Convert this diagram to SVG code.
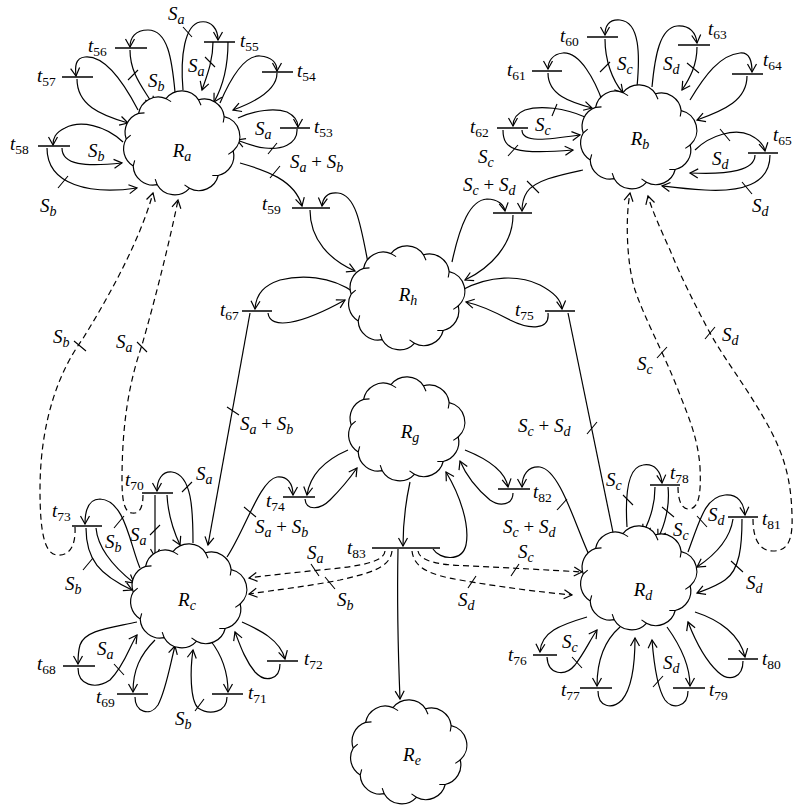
<svg xmlns="http://www.w3.org/2000/svg" width="796" height="805" viewBox="0 0 796 805">
<style>
.ln{fill:none;stroke:#000;stroke-width:1.2}
.ar{marker-end:url(#ah)}
.ds{stroke-dasharray:6 4}
.bar{stroke:#000;stroke-width:1.5}
.tk{stroke:#000;stroke-width:1.1}
.cl{fill:#fff;stroke:#000;stroke-width:1.2;stroke-linejoin:round}
.ct{fill:none;stroke:#000;stroke-width:1.1}
text{font-family:"Liberation Serif","DejaVu Serif",serif;font-style:italic;font-size:19px;fill:#000}
.n{font-size:13.5px;font-style:normal}
.i{font-size:14px}
.p{font-style:normal}
.rl{text-anchor:middle}
</style>
<defs>
<marker id="ah" viewBox="-10 -6 12 12" markerWidth="12" markerHeight="12" refX="0" refY="0" orient="auto" markerUnits="userSpaceOnUse"><path d="M-8,-4.5 L0,0 L-8,4.5" fill="none" stroke="#000" stroke-width="1.2"/></marker>
<g id="cloud">
<path class="cl" d="M53.2 8 A20 20 0 0 1 38.2 32.5 A20 20 0 0 1 9.4 45.3 A20 20 0 0 1 -22.8 41.7 A20 20 0 0 1 -46.8 23 A20 20 0 0 1 -53.8 -4 A20 20 0 0 1 -41.4 -29.6 A20 20 0 0 1 -14 -44.4 A20 20 0 0 1 18.5 -43.2 A20 20 0 0 1 44.2 -26.4 A20 20 0 0 1 53.2 8 Z"/>
<path class="ct" d="M53.2 8 l-4.9 3.4 M38.2 32.5 l-5.9 0 M9.4 45.3 l-4.9 -3.4 M-22.8 41.7 l-2 -5.6 M-46.8 23 l1.5 -5.7 M-53.8 -4 l4.5 -3.8 M-41.4 -29.6 l5.9 -0.5 M-14 -44.4 l5.1 3 M18.5 -43.2 l2.5 5.4 M44.2 -26.4 l-1 5.9"/>
</g>
</defs>
<rect width="796" height="805" fill="#fff"/>

<g id="connectors">
<!-- Ra -->
<path class="ln ar" d="M183 90 C180 55 185 25 200 22 C212 20 218 30 218 40"/>
<path class="ln ar" d="M213 42 C213 62 206 78 202 90"/>
<path class="ln ar" d="M228 42 C228 70 222 88 214 102"/>
<path class="ln ar" d="M220 103 C232 75 245 55 260 56 C272 57 277 63 277 71"/>
<path class="ln ar" d="M277 73 C277 90 255 102 233 110"/>
<path class="ln ar" d="M238 118 C255 110 275 108 287 112 C295 116 298 121 298 127"/>
<path class="ln ar" d="M297 129 C298 145 280 150 265 148 C255 147 245 143 237 140"/>
<path class="ln ar" d="M240 163 C265 170 295 180 302 206"/>
<path class="ln ar" d="M175 92 C172 60 168 30 148 30 C135 30 130 38 130 47"/>
<path class="ln ar" d="M130 50 C130 75 145 90 153 105"/>
<path class="ln ar" d="M138 110 C125 85 105 55 85 57 C75 58 75 67 76 76"/>
<path class="ln ar" d="M77 79 C77 105 100 115 128 123"/>
<path class="ln ar" d="M123 142 C105 125 80 120 65 128 C55 133 53 138 53 145"/>
<path class="ln ar" d="M62 148 C62 165 85 167 122 163"/>
<path class="ln ar" d="M47 148 C47 185 90 195 137 188"/>
<path class="ln ar ds" d="M75 527 C76 548 68 556 57 555 C44 554 40 530 40 490 C40 420 60 370 82 340 C110 295 140 240 153 193"/>
<path class="ln ar ds" d="M143 495 C143 510 138 514 132 513 C124 512 122 500 122 480 C122 420 130 380 142 345 C155 300 170 240 178 200"/>
<path class="tk" d="M183 27 L192 37 M205 57 L215 67 M268 154 L277 143 M270 178 L280 166 M128 80 L138 70 M58 188 L68 176 M74 341 L86 351 M137 342 L147 352"/>
<!-- Rh -->
<path class="ln ar" d="M368 263 C360 220 355 195 338 193 C328 192 323 197 322 206"/>
<path class="ln ar" d="M310 210 C310 240 330 260 355 271"/>
<path class="ln ar" d="M452 262 C460 225 470 200 487 199 C498 199 504 205 505 211"/>
<path class="ln ar" d="M583 170 C560 175 535 180 527 192 C523 198 522 203 522 211"/>
<path class="ln ar" d="M513 215 C513 245 490 268 465 280"/>
<path class="ln ar" d="M355 293 C330 275 300 275 280 280 C265 285 256 293 255 309"/>
<path class="ln ar" d="M268 313 C270 330 300 325 345 300"/>
<path class="ln ar" d="M462 290 C490 275 520 275 540 285 C555 293 561 300 562 309"/>
<path class="ln ar" d="M548 313 C550 330 530 330 510 320 C495 312 480 305 466 302"/>
<path class="ln ar" d="M568 313 L616 547"/>
<path class="ln ar" d="M250 313 L208 545"/>
<path class="tk" d="M527 181 L539 193 M587 434 L597 422 M227 407 L239 415"/>
<!-- Rb -->
<path class="ln ar" d="M637 87 C640 55 640 22 620 20 C608 19 605 27 605 35"/>
<path class="ln ar" d="M605 39 C605 60 612 80 623 93"/>
<path class="ln ar" d="M652 87 C655 55 660 28 677 26 C690 25 696 33 697 43"/>
<path class="ln ar" d="M697 47 C697 65 690 78 682 90"/>
<path class="ln ar" d="M690 100 C705 75 720 55 740 53 C750 52 752 62 752 72"/>
<path class="ln ar" d="M747 76 C747 100 725 110 697 120"/>
<path class="ln ar" d="M603 103 C595 80 580 52 563 53 C552 54 548 62 548 69"/>
<path class="ln ar" d="M548 73 C548 95 570 102 592 108"/>
<path class="ln ar" d="M585 117 C565 108 540 105 525 110 C515 114 513 120 513 126"/>
<path class="ln ar" d="M522 130 C522 143 545 140 580 135"/>
<path class="ln ar" d="M503 130 C503 150 515 155 573 150"/>
<path class="ln ar" d="M695 150 C710 135 735 128 750 135 C760 140 764 146 765 151"/>
<path class="ln ar" d="M755 155 C755 170 730 175 690 173"/>
<path class="ln ar" d="M770 155 C770 185 740 192 705 190 C685 189 670 187 662 186"/>
<path class="tk" d="M600 72 L610 62 M687 63 L699 73 M552 116 L557 104 M508 156 L518 145 M720 129 L730 141 M742 182 L752 194"/>
<!-- Rc -->
<path class="ln ar" d="M193 543 C193 510 192 475 172 472 C162 471 157 480 157 491"/>
<path class="ln ar" d="M155 495 L155 557"/>
<path class="ln ar" d="M167 495 C168 515 173 530 180 545"/>
<path class="ln ar" d="M140 568 C130 545 125 500 100 499 C90 499 85 508 85 524"/>
<path class="ln ar" d="M86 528 C86 560 100 575 132 590"/>
<path class="ln ar" d="M96 528 C98 550 115 568 134 583"/>
<path class="ln ar" d="M227 557 C245 530 260 480 277 477 C287 476 293 483 293 495"/>
<path class="ln ar" d="M137 622 C110 628 85 630 80 645 C78 652 78 658 78 664"/>
<path class="ln ar" d="M78 668 C78 685 95 690 110 680 C125 665 130 645 137 635"/>
<path class="ln ar" d="M155 640 C140 655 133 670 133 692"/>
<path class="ln ar" d="M135 697 C135 712 150 717 158 705 C166 690 170 665 175 646"/>
<path class="ln ar" d="M210 640 C222 655 228 672 228 692"/>
<path class="ln ar" d="M227 697 C227 712 210 716 198 708 C190 700 190 670 193 650"/>
<path class="ln ar" d="M242 622 C260 630 280 640 285 659"/>
<path class="ln ar" d="M280 664 C280 680 265 683 255 672 C245 660 240 645 235 632"/>
<path class="ln ar ds" d="M385 551 C384 562 360 566 330 569 C300 572 270 575 249 578"/>
<path class="ln ar ds" d="M392 551 C390 568 370 573 340 580 C310 586 275 590 249 594"/>
<path class="tk" d="M182 492 L192 482 M150 535 L160 525 M114 528 L124 516 M83 570 L93 558 M244 507 L256 517 M114 664 L124 675 M195 711 L204 699 M311 564 L319 576 M325 577 L335 589"/>
<!-- Rg -->
<path class="ln ar" d="M348 450 C325 460 310 475 307 495"/>
<path class="ln ar" d="M305 499 C306 511 320 510 330 500 C340 490 350 478 357 468"/>
<path class="ln ar" d="M410 482 C405 505 403 525 403 546"/>
<path class="ln ar" d="M433 549 C440 560 462 562 466 545 C470 525 460 495 446 472"/>
<path class="ln ar" d="M398 549 C397 600 398 650 400 699"/>
<path class="ln ar" d="M465 450 C485 458 505 470 508 487"/>
<path class="ln ar" d="M513 493 C513 505 500 507 490 500 C478 490 466 475 460 461"/>
<path class="ln ar" d="M590 557 C575 525 560 470 540 467 C528 466 522 475 522 487"/>
<path class="tk" d="M557 510 L567 499"/>
<!-- Rd -->
<path class="ln ar" d="M627 527 C625 495 628 467 643 465 C655 463 661 472 662 483"/>
<path class="ln ar" d="M655 487 C655 505 650 520 643 533"/>
<path class="ln ar" d="M668 487 C670 505 665 525 658 538"/>
<path class="ln ar ds" d="M678 487 C678 503 683 510 690 509 C700 507 701 490 700 467 C698 440 690 420 680 395 C665 355 645 320 635 290 C627 265 625 220 630 193"/>
<path class="ln ar" d="M688 552 C700 520 705 497 725 495 C738 494 744 503 745 515"/>
<path class="ln ar" d="M733 519 C730 540 715 555 697 567"/>
<path class="ln ar" d="M742 519 C742 545 740 570 725 580 C715 587 705 590 697 593"/>
<path class="ln ar ds" d="M753 519 C753 540 760 551 773 551 C788 551 793 540 792 515 C791 480 785 455 765 420 C745 385 725 360 710 333 C695 305 680 275 670 250 C660 228 652 210 648 196"/>
<path class="ln ar ds" d="M418 551 C420 562 440 565 470 566 C510 568 550 570 582 572"/>
<path class="ln ar ds" d="M412 551 C414 568 430 575 460 580 C500 587 540 592 572 595"/>
<path class="ln ar" d="M587 617 C560 625 541 632 540 652"/>
<path class="ln ar" d="M547 657 C548 675 565 677 575 665 C585 652 590 640 597 630"/>
<path class="ln ar" d="M620 627 C605 640 597 660 597 686"/>
<path class="ln ar" d="M598 691 C598 707 612 710 622 700 C632 688 635 665 635 638"/>
<path class="ln ar" d="M667 627 C680 645 690 665 690 686"/>
<path class="ln ar" d="M688 691 C688 707 672 710 665 700 C657 688 654 665 652 640"/>
<path class="ln ar" d="M695 612 C720 620 740 635 745 657"/>
<path class="ln ar" d="M743 661 C743 677 730 683 718 672 C705 660 695 640 688 622"/>
<path class="tk" d="M623 495 L633 505 M662 507 L674 517 M657 358 L667 347 M697 516 L707 527 M731 561 L743 572 M705 339 L715 327 M511 576 L519 564 M468 588 L476 576 M572 657 L582 668 M653 687 L663 676"/>

<!-- arc labels -->
<text x="168" y="20">S<tspan class="i" dy="4">a</tspan></text>
<text x="188" y="72">S<tspan class="i" dy="4">a</tspan></text>
<text x="255" y="135">S<tspan class="i" dy="4">a</tspan></text>
<text x="290" y="168">S<tspan class="i" dy="4">a</tspan><tspan class="p" dy="-4"> + </tspan>S<tspan class="i" dy="4">b</tspan></text>
<text x="148" y="87">S<tspan class="i" dy="4">b</tspan></text>
<text x="88" y="157">S<tspan class="i" dy="4">b</tspan></text>
<text x="40" y="212">S<tspan class="i" dy="4">b</tspan></text>
<text x="53" y="343">S<tspan class="i" dy="4">b</tspan></text>
<text x="116" y="348">S<tspan class="i" dy="4">a</tspan></text>
<text x="196" y="480">S<tspan class="i" dy="4">a</tspan></text>
<text x="130" y="541">S<tspan class="i" dy="4">a</tspan></text>
<text x="105" y="548">S<tspan class="i" dy="4">b</tspan></text>
<text x="65" y="590">S<tspan class="i" dy="4">b</tspan></text>
<text x="240" y="430">S<tspan class="i" dy="4">a</tspan><tspan class="p" dy="-4"> + </tspan>S<tspan class="i" dy="4">b</tspan></text>
<text x="255" y="533">S<tspan class="i" dy="4">a</tspan><tspan class="p" dy="-4"> + </tspan>S<tspan class="i" dy="4">b</tspan></text>
<text x="307" y="559">S<tspan class="i" dy="4">a</tspan></text>
<text x="337" y="606">S<tspan class="i" dy="4">b</tspan></text>
<text x="97" y="655">S<tspan class="i" dy="4">a</tspan></text>
<text x="175" y="725">S<tspan class="i" dy="4">b</tspan></text>
<text x="463" y="191">S<tspan class="i" dy="4">c</tspan><tspan class="p" dy="-4"> + </tspan>S<tspan class="i" dy="4">d</tspan></text>
<text x="617" y="70">S<tspan class="i" dy="4">c</tspan></text>
<text x="663" y="70">S<tspan class="i" dy="4">d</tspan></text>
<text x="535" y="131">S<tspan class="i" dy="4">c</tspan></text>
<text x="478" y="163">S<tspan class="i" dy="4">c</tspan></text>
<text x="712" y="165">S<tspan class="i" dy="4">d</tspan></text>
<text x="752" y="212">S<tspan class="i" dy="4">d</tspan></text>
<text x="518" y="432">S<tspan class="i" dy="4">c</tspan><tspan class="p" dy="-4"> + </tspan>S<tspan class="i" dy="4">d</tspan></text>
<text x="503" y="533">S<tspan class="i" dy="4">c</tspan><tspan class="p" dy="-4"> + </tspan>S<tspan class="i" dy="4">d</tspan></text>
<text x="606" y="486">S<tspan class="i" dy="4">c</tspan></text>
<text x="673" y="536">S<tspan class="i" dy="4">c</tspan></text>
<text x="637" y="370">S<tspan class="i" dy="4">c</tspan></text>
<text x="708" y="521">S<tspan class="i" dy="4">d</tspan></text>
<text x="746" y="589">S<tspan class="i" dy="4">d</tspan></text>
<text x="722" y="341">S<tspan class="i" dy="4">d</tspan></text>
<text x="518" y="558">S<tspan class="i" dy="4">c</tspan></text>
<text x="458" y="606">S<tspan class="i" dy="4">d</tspan></text>
<text x="562" y="648">S<tspan class="i" dy="4">c</tspan></text>
<text x="663" y="669">S<tspan class="i" dy="4">d</tspan></text>
</g>

<g id="Ra"><use href="#cloud" transform="translate(180,143)"/><text class="rl" x="182" y="157">R<tspan class="i" dy="4">a</tspan></text></g>
<g id="Rb"><use href="#cloud" transform="translate(637,137)"/><text class="rl" x="640" y="145">R<tspan class="i" dy="4">b</tspan></text></g>
<g id="Rh"><use href="#cloud" transform="translate(405,298)"/><text class="rl" x="408" y="301">R<tspan class="i" dy="4">h</tspan></text></g>
<g id="Rg"><use href="#cloud" transform="translate(405,429)"/><text class="rl" x="410" y="438">R<tspan class="i" dy="4">g</tspan></text></g>
<g id="Rc"><use href="#cloud" transform="translate(187,596)"/><text class="rl" x="187" y="606">R<tspan class="i" dy="4">c</tspan></text></g>
<g id="Rd"><use href="#cloud" transform="translate(637,578)"/><text class="rl" x="643" y="596">R<tspan class="i" dy="4">d</tspan></text></g>
<g id="Re"><use href="#cloud" transform="translate(407,752)"/><text class="rl" x="412" y="761">R<tspan class="i" dy="4">e</tspan></text></g>

<g id="t53"><path class="bar" d="M280 128 H310"/><text x="314" y="133">t<tspan class="n" dy="4">53</tspan></text></g>
<g id="t54"><path class="bar" d="M262 72 H293"/><text x="297" y="77">t<tspan class="n" dy="4">54</tspan></text></g>
<g id="t55"><path class="bar" d="M204 42 H235"/><text x="240" y="47">t<tspan class="n" dy="4">55</tspan></text></g>
<g id="t56"><path class="bar" d="M115 48 H147"/><text x="88" y="52">t<tspan class="n" dy="4">56</tspan></text></g>
<g id="t57"><path class="bar" d="M62 77 H93"/><text x="37" y="82">t<tspan class="n" dy="4">57</tspan></text></g>
<g id="t58"><path class="bar" d="M38 146 H70"/><text x="10" y="150">t<tspan class="n" dy="4">58</tspan></text></g>
<g id="t59"><path class="bar" d="M292 208 H330"/><text x="262" y="210">t<tspan class="n" dy="4">59</tspan></text></g>
<g id="t60"><path class="bar" d="M587 37 H618"/><text x="560" y="42">t<tspan class="n" dy="4">60</tspan></text></g>
<g id="t61"><path class="bar" d="M532 71 H562"/><text x="507" y="76">t<tspan class="n" dy="4">61</tspan></text></g>
<g id="t62"><path class="bar" d="M497 128 H528"/><text x="470" y="133">t<tspan class="n" dy="4">62</tspan></text></g>
<g id="t63"><path class="bar" d="M678 45 H710"/><text x="708" y="35">t<tspan class="n" dy="4">63</tspan></text></g>
<g id="t64"><path class="bar" d="M732 74 H763"/><text x="763" y="66">t<tspan class="n" dy="4">64</tspan></text></g>
<g id="t65"><path class="bar" d="M748 153 H778"/><text x="773" y="141">t<tspan class="n" dy="4">65</tspan></text></g>
<g id="t66"><path class="bar" d="M493 213 H532"/></g>
<g id="t67"><path class="bar" d="M242 311 H272"/><text x="220" y="316">t<tspan class="n" dy="4">67</tspan></text></g>
<g id="t68"><path class="bar" d="M63 666 H95"/><text x="37" y="670">t<tspan class="n" dy="4">68</tspan></text></g>
<g id="t69"><path class="bar" d="M117 694 H148"/><text x="96" y="703">t<tspan class="n" dy="4">69</tspan></text></g>
<g id="t70"><path class="bar" d="M142 493 H173"/><text x="125" y="486">t<tspan class="n" dy="4">70</tspan></text></g>
<g id="t71"><path class="bar" d="M212 694 H243"/><text x="248" y="699">t<tspan class="n" dy="4">71</tspan></text></g>
<g id="t72"><path class="bar" d="M267 661 H298"/><text x="304" y="665">t<tspan class="n" dy="4">72</tspan></text></g>
<g id="t73"><path class="bar" d="M72 526 H102"/><text x="52" y="517">t<tspan class="n" dy="4">73</tspan></text></g>
<g id="t74"><path class="bar" d="M283 497 H315"/><text x="266" y="507">t<tspan class="n" dy="4">74</tspan></text></g>
<g id="t75"><path class="bar" d="M545 311 H575"/><text x="515" y="316">t<tspan class="n" dy="4">75</tspan></text></g>
<g id="t76"><path class="bar" d="M533 655 H557"/><text x="508" y="661">t<tspan class="n" dy="4">76</tspan></text></g>
<g id="t77"><path class="bar" d="M580 688 H612"/><text x="561" y="696">t<tspan class="n" dy="4">77</tspan></text></g>
<g id="t78"><path class="bar" d="M650 485 H680"/><text x="670" y="479">t<tspan class="n" dy="4">78</tspan></text></g>
<g id="t79"><path class="bar" d="M673 688 H705"/><text x="709" y="696">t<tspan class="n" dy="4">79</tspan></text></g>
<g id="t80"><path class="bar" d="M728 659 H758"/><text x="762" y="665">t<tspan class="n" dy="4">80</tspan></text></g>
<g id="t81"><path class="bar" d="M728 517 H758"/><text x="762" y="525">t<tspan class="n" dy="4">81</tspan></text></g>
<g id="t82"><path class="bar" d="M498 489 H530"/><text x="533" y="498">t<tspan class="n" dy="4">82</tspan></text></g>
<g id="t83"><path class="bar" d="M372 548 H440"/><text x="347" y="554">t<tspan class="n" dy="4">83</tspan></text></g>
</svg>
